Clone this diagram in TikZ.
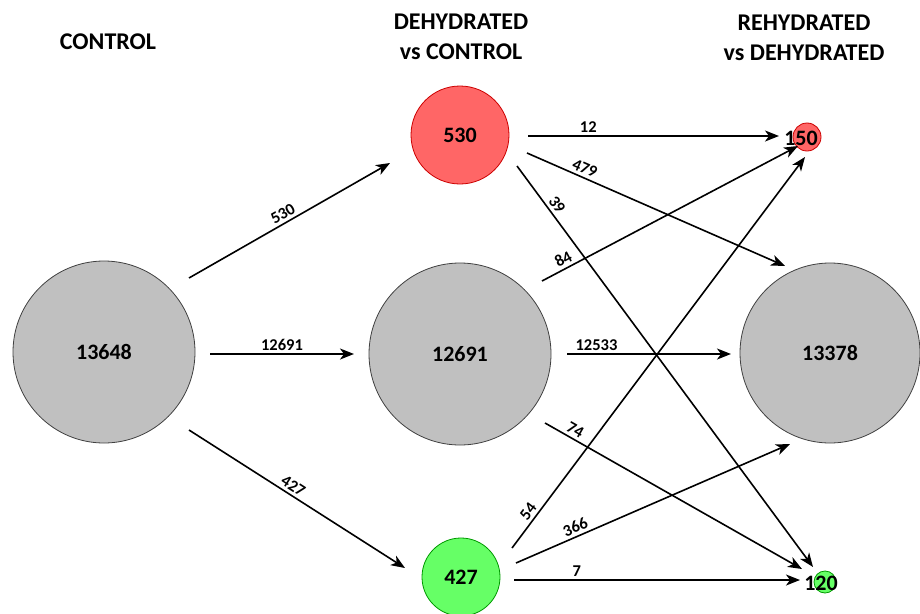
\documentclass[tikz,border=0pt]{standalone}
\usepackage{fontspec}
\setmainfont{Carlito}
\usetikzlibrary{arrows.meta,positioning}
\definecolor{setgray}{RGB}{192,192,192}
\definecolor{setred}{RGB}{255,102,102}
\definecolor{setgreen}{RGB}{102,255,102}
\definecolor{edgered}{RGB}{204,0,0}
\definecolor{edgegreen}{RGB}{0,153,0}
\tikzset{
  set/.style={circle,draw,line width=0.8pt,inner sep=0pt,
    font=\fontsize{22}{22}\selectfont\bfseries},
  bigset/.style={set,fill=setgray,draw=black!75,minimum size=182pt},
  upset/.style={set,fill=setred,draw=edgered},
  downset/.style={set,fill=setgreen,draw=edgegreen},
  numtxt/.style={inner sep=0pt,font=\fontsize{22}{22}\selectfont\bfseries},
  heading/.style={align=center,inner sep=0pt,
    font=\fontsize{24}{30}\selectfont\bfseries},
  flow/.style={-{Stealth[length=14pt,width=11pt,inset=4pt]},line width=1.6pt},
  cnt/.style={sloped,above,inner sep=3pt,
    font=\fontsize{16.5}{16.5}\selectfont\bfseries}
}
\begin{document}
\begin{tikzpicture}[x=1pt,y=-1pt]
  \useasboundingbox (0,0) rectangle (920,613);
  % column headings
  \node[heading] (hctrl) at (108,42) {CONTROL};
  \node[heading] (hdeh) at (461,37) {DEHYDRATED\\vs CONTROL};
  \node[heading] (hreh) at (804,38) {REHYDRATED\\vs DEHYDRATED};
  % sets
  \node[bigset] (ctrl) at (104,352) {13648};
  \node[upset,minimum size=98pt] (d530) at (460,135) {530};
  \node[bigset] (d12691) at (460,354) {12691};
  \node[downset,minimum size=78pt] (d427) at (461,577) {427};
  \node[upset,minimum size=28pt] (r150) at (807,137) {};
  \node[numtxt] (t150) at (801,138) {150};
  \node[bigset,minimum size=180pt] (r13378) at (830,353) {13378};
  \node[downset,minimum size=22pt] (r120) at (825,582) {};
  \node[numtxt] (t120) at (821,583) {120};
  % arrow ends
  \coordinate (c1s) at (189,278);  \coordinate (c1e) at (390,163);
  \coordinate (c2s) at (210,354);  \coordinate (c2e) at (354,354);
  \coordinate (c3s) at (189,430);  \coordinate (c3e) at (405,568);
  \coordinate (u1s) at (528,136);  \coordinate (u1e) at (779,136);
  \coordinate (u2s) at (527,153);  \coordinate (u2e) at (785,266);
  \coordinate (u3s) at (517,166);  \coordinate (u3e) at (813,567);
  \coordinate (m1s) at (542,281);  \coordinate (m1e) at (798,146);
  \coordinate (m2s) at (567,354);  \coordinate (m2e) at (731,354);
  \coordinate (m3s) at (545,423);  \coordinate (m3e) at (802,569);
  \coordinate (g1s) at (512,548);  \coordinate (g1e) at (805,157);
  \coordinate (g2s) at (516,563);  \coordinate (g2e) at (790,444);
  \coordinate (g3s) at (514,580);  \coordinate (g3e) at (800,580);
  % control -> dehydrated
  \draw[flow] (c1s) -- node[cnt,pos=.49] {530} (c1e);
  \draw[flow] (c2s) -- node[cnt,pos=.5] {12691} (c2e);
  \draw[flow] (c3s) -- node[cnt,pos=.46] {427} (c3e);
  % dehydrated -> rehydrated
  \draw[flow] (u1s) -- node[cnt,pos=.24] {12} (u1e);
  \draw[flow] (u2s) -- node[cnt,pos=.21] {479} (u2e);
  \draw[flow] (u3s) -- node[cnt,pos=.11] {39} (u3e);
  \draw[flow] (m1s) -- node[cnt,pos=.10] {84} (m1e);
  \draw[flow] (m2s) -- node[cnt,pos=.18] {12533} (m2e);
  \draw[flow] (m3s) -- node[cnt,pos=.10] {74} (m3e);
  \draw[flow] (g1s) -- node[cnt,pos=.08] {54} (g1e);
  \draw[flow] (g2s) -- node[cnt,pos=.23] {366} (g2e);
  \draw[flow] (g3s) -- node[cnt,pos=.22] {7} (g3e);
\end{tikzpicture}
\end{document}
